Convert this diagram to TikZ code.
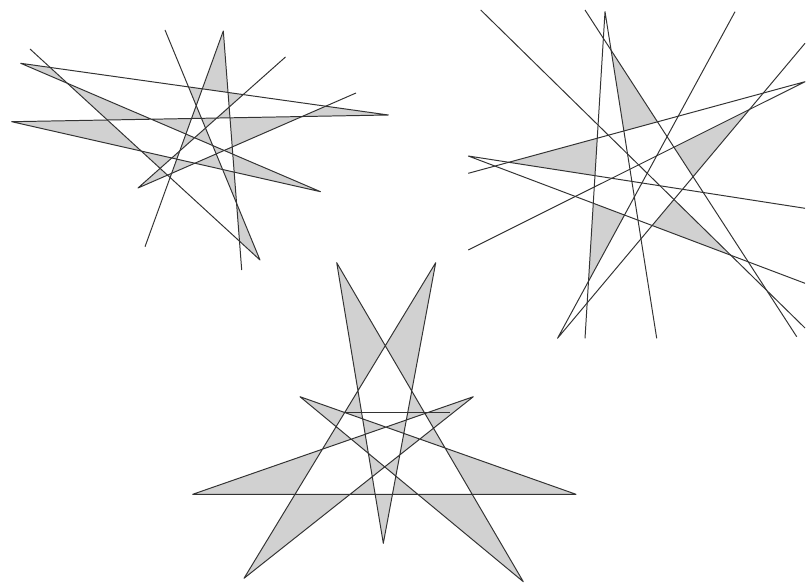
\documentclass[tikz,border=0pt]{standalone}
\usetikzlibrary{calc}
\begin{document}
\begin{tikzpicture}[x=0.025cm, y=-0.025cm,
  seg/.style={line width=0.7pt, black!80, line join=round},
  tipfill/.style={fill=black!18}]
\useasboundingbox (0,0) rectangle (806,583);

% upper left star
\coordinate (la) at (30,49);
\coordinate (lb) at (20.7,63.3);
\coordinate (lc) at (11.7,121.7);
\coordinate (lt) at (165,30);
\coordinate (lv) at (223.3,31);
\coordinate (lh) at (285.5,57);
\coordinate (lg) at (356,93);
\coordinate (lr) at (388.3,115);
\coordinate (lp) at (320.5,191.7);
\coordinate (lq) at (260,260);
\coordinate (lf) at (138,188);
\coordinate (ld) at (145,246.7);
\coordinate (le) at (241.7,270);
\foreach \p/\q [count=\i] in {la/lq, lb/lr, lb/lp, lc/lr, lc/lp, lt/lq, lv/ld, lv/le, lh/lf, lg/lf} {
  \coordinate (ha\i) at ($(\p)!-5!(\q)$);
  \coordinate (hb\i) at ($(\q)!-5!(\p)$);
}
\begin{scope}
\clip (lb) -- (intersection of lb--lr and lv--ld) -- (lv)
  -- (intersection of lb--lr and lv--le) -- (lr)
  -- (intersection of lc--lr and lg--lf) -- (intersection of lg--lf and lv--le)
  -- (intersection of lv--le and lb--lp) -- (lp)
  -- (intersection of lc--lp and lv--le) -- (intersection of lv--le and lt--lq) -- (lq)
  -- (intersection of la--lq and lg--lf) -- (lf)
  -- (intersection of lh--lf and la--lq) -- (intersection of la--lq and lc--lp) -- (lc)
  -- (intersection of lc--lr and la--lq) -- (intersection of la--lq and lb--lp) -- cycle;
\fill[tipfill, even odd rule] \foreach \i in {1,...,10} {
  (ha\i) -- (hb\i) -- ($(hb\i)!40cm!-90:(ha\i)$) -- ($(ha\i)!40cm!90:(hb\i)$) -- cycle};
\end{scope}
\draw[seg] (la) -- (lq) -- (lt);
\draw[seg] (lr) -- (lb) -- (lp) -- (lc) -- cycle;
\draw[seg] (ld) -- (lv) -- (le);
\draw[seg] (lh) -- (lf) -- (lg);

% upper right star
\coordinate (ra1) at (480.7,10);
\coordinate (ra2) at (805,328);
\coordinate (rb1) at (585,10);
\coordinate (rb2) at (796.7,336.7);
\coordinate (rv) at (605,11.7);
\coordinate (rc) at (585,338.3);
\coordinate (rd) at (656.7,338.3);
\coordinate (re) at (735,11.7);
\coordinate (rf) at (805,43.3);
\coordinate (rw) at (557.5,338.3);
\coordinate (rg) at (468.3,173.3);
\coordinate (rj) at (468.3,250);
\coordinate (rx) at (805,81.7);
\coordinate (ry) at (468.3,156);
\coordinate (rh) at (805,208.3);
\coordinate (ri) at (805,283.3);
\fill[tipfill] (intersection of rv--rd and rb1--rb2) -- (intersection of rv--rd and rg--rx)
  -- (intersection of rb1--rb2 and rg--rx) -- cycle;
\fill[tipfill] (intersection of rg--rx and ry--rh) -- (intersection of rg--rx and rv--rc)
  -- (intersection of ry--rh and rv--rc) -- cycle;
\fill[tipfill] (intersection of rj--rx and rb1--rb2) -- (intersection of rj--rx and rf--rw)
  -- (intersection of rb1--rb2 and rf--rw) -- cycle;
\fill[tipfill] (intersection of rv--rc and ry--ri) -- (intersection of re--rw and ry--ri)
  -- (intersection of rv--rc and re--rw) -- cycle;
\fill[tipfill] (intersection of rf--rw and ra1--ra2) -- (intersection of rf--rw and ry--ri)
  -- (intersection of ra1--ra2 and ry--ri) -- cycle;
\draw[seg] (ra1) -- (ra2);
\draw[seg] (rb1) -- (rb2);
\draw[seg] (rc) -- (rv) -- (rd);
\draw[seg] (re) -- (rw) -- (rf);
\draw[seg] (rg) -- (rx) -- (rj);
\draw[seg] (rh) -- (ry) -- (ri);

% lower star
\coordinate (sNW) at (336.7,262.7);
\coordinate (sNE) at (435.7,262.7);
\coordinate (sW) at (192.7,494.3);
\coordinate (sE) at (576,494.3);
\coordinate (sSW) at (244,578.3);
\coordinate (sSE) at (523.3,581.7);
\coordinate (sS) at (383.3,543.3);
\coordinate (sIW) at (300,396.7);
\coordinate (sIE) at (473.3,396.7);
\coordinate (hz1) at (345,412.5);
\coordinate (hz2) at (450,412.5);
\fill[tipfill, even odd rule] (sNW) -- (sS) -- (sNE) -- (sSW) -- (sIE) -- (sW) -- (sE) -- (sIW) -- (sSE) -- cycle;
\draw[seg] (sNW) -- (sS) -- (sNE) -- (sSW) -- (sIE) -- (sW) -- (sE) -- (sIW) -- (sSE) -- cycle;
\draw[seg] (hz1) -- (hz2);
\end{tikzpicture}
\end{document}
